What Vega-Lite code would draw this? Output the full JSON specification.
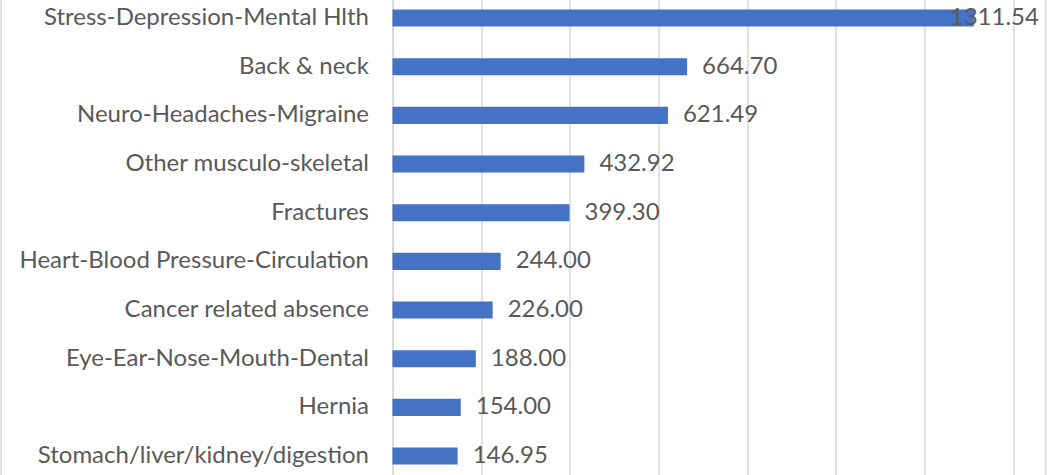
{
  "$schema": "https://vega.github.io/schema/vega-lite/v6.json",
  "autosize": {"type": "none"},
  "width": 620.5,
  "height": 486.7,
  "padding": {"left": 392.5, "top": -6.3, "right": 50, "bottom": 0},
  "background": "white",
  "config": {
    "view": {"stroke": null},
    "font": "Lato"
  },
  "data": {
    "values": [
      {"category": "Stress-Depression-Mental Hlth", "value": 1311.54},
      {"category": "Back & neck", "value": 664.70},
      {"category": "Neuro-Headaches-Migraine", "value": 621.49},
      {"category": "Other musculo-skeletal", "value": 432.92},
      {"category": "Fractures", "value": 399.30},
      {"category": "Heart-Blood Pressure-Circulation", "value": 244.00},
      {"category": "Cancer related absence", "value": 226.00},
      {"category": "Eye-Ear-Nose-Mouth-Dental", "value": 188.00},
      {"category": "Hernia", "value": 154.00},
      {"category": "Stomach/liver/kidney/digestion", "value": 146.95}
    ]
  },
  "encoding": {
    "y": {
      "field": "category",
      "type": "nominal",
      "sort": ["Stress-Depression-Mental Hlth", "Back & neck", "Neuro-Headaches-Migraine", "Other musculo-skeletal", "Fractures", "Heart-Blood Pressure-Circulation", "Cancer related absence", "Eye-Ear-Nose-Mouth-Dental", "Hernia", "Stomach/liver/kidney/digestion"],
      "scale": {"paddingInner": 0.65, "paddingOuter": 0.325},
      "axis": {
        "title": null,
        "ticks": false,
        "domain": true,
        "domainColor": "#d9d9d9",
        "domainWidth": 1.5,
        "labelFont": "Lato",
        "labelFontSize": 24,
        "labelColor": "#595959",
        "labelPadding": 24,
        "labelLimit": 400
      }
    },
    "x": {
      "field": "value",
      "type": "quantitative",
      "scale": {"domain": [0, 1400], "nice": false},
      "axis": {
        "title": null,
        "labels": false,
        "ticks": false,
        "domain": false,
        "grid": true,
        "gridColor": "#d9d9d9",
        "gridWidth": 1.5,
        "values": [0, 200, 400, 600, 800, 1000, 1200, 1400]
      }
    }
  },
  "layer": [
    {"mark": {"type": "bar", "color": "#4472C4"}},
    {
      "transform": [{"filter": "datum.value < 1000"}],
      "mark": {"type": "text", "align": "left", "baseline": "middle", "dx": 15, "fontSize": 24, "color": "#595959", "font": "Lato"},
      "encoding": {"text": {"field": "value", "type": "quantitative", "format": ".2f"}}
    },
    {
      "transform": [{"filter": "datum.value >= 1000"}],
      "mark": {"type": "text", "align": "left", "baseline": "middle", "dx": -24, "fontSize": 24, "color": "#595959", "font": "Lato"},
      "encoding": {"text": {"field": "value", "type": "quantitative", "format": ".2f"}}
    },
    {
      "data": {"values": [{"edge": -883}, {"edge": 1474}]},
      "mark": {"type": "rule", "color": "#d9d9d9", "strokeWidth": 1.5, "clip": false},
      "encoding": {"x": {"field": "edge", "type": "quantitative"}, "y": null}
    }
  ]
}
